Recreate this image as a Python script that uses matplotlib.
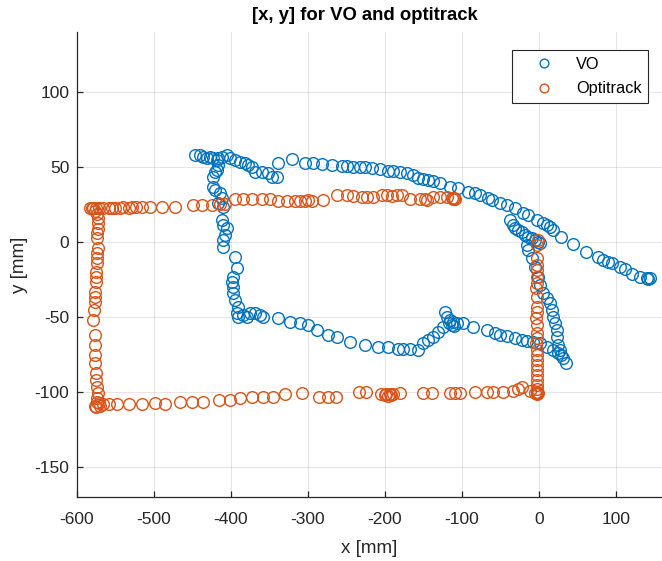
"""
VO vs Optitrack trajectory - top-down [x, y] scatter.
"""

import matplotlib
matplotlib.use("Agg")  # non-interactive backend
import matplotlib.pyplot as plt

# Visual odometry estimate [mm]
vo_x = [
    -37.7, -33.4, -31.2, -26.8, -22.5, -18.2, -13.9, -9.5, -5.2, -0.9, 1.3, -16.0,
    -13.9, -9.5, -5.2, -0.9, 1.3, 5.6, 10.0, 14.3, 16.5, 18.6, 20.8, 23.0, 23.0,
    25.1, 27.3, 29.4, 31.6, 35.9,
    25.1, 18.6, 10.0, 1.3, -7.4, -16.0, -22.5, -31.2, -42.0, -50.6, -57.1, -68.0, -85.3,
    -98.3, -106.9, -113.4, -111.3, -115.6, -122.1, -119.9, -117.0, -110.0, -124.3,
    -130.8, -137.2, -143.7, -150.2,
    -156.7, -167.5, -176.2, -182.7, -195.7, -208.7, -226.0, -245.5, -262.7, -273.6,
    -288.7, -299.6, -310.4, -323.4, -338.5, -358.0, -362.3, -368.8, -375.3, -379.7,
    -384.0, -390.5, -392.6, -390.5, -394.8, -397.0, -397.0, -399.1, -397.0, -392.6, -394.8,
    -410.0, -410.0, -407.8, -405.6, -410.0, -412.1, -410.0, -416.5, -412.1, -414.3,
    -420.8, -423.0, -423.0, -418.6, -420.8, -416.5,
    -446.8, -440.3, -436.0, -431.6, -427.3, -423.0, -418.6, -416.5, -412.1, -405.6,
    -401.3, -394.8, -388.3, -381.8, -377.5, -373.2, -368.8, -360.2, -351.5, -347.2,
    -340.7, -338.5,
    -321.2, -303.9, -293.1, -282.3, -269.3, -256.3, -249.8, -241.2, -232.5, -226.0,
    -217.3, -206.5, -195.7, -189.2, -180.5, -171.8, -163.2, -156.7, -150.2, -143.7,
    -137.2, -128.6, -115.6, -104.8, -91.8, -83.1, -76.6, -65.8, -61.5, -50.6, -42.0,
    -31.2, -20.3, -13.9, -3.0, 5.6, 10.0, 14.3, 18.6, 29.4, 44.6, 61.9, 77.0, 83.5,
    90.0, 94.4, 105.2, 111.7, 120.4, 131.2, 139.9, 142.0, 144.2,
]
vo_y = [
    14.7, 11.3, 9.1, 8.0, 6.9, 4.7, 3.6, 2.4, 1.3, 0.2, -0.9, -2.0,
    -5.3, -10.9, -16.4, -23.1, -28.7, -34.2, -37.6, -40.9, -45.3, -49.8, -54.2, -58.7, -63.1,
    -68.7, -72.0, -75.3, -77.6, -80.9,
    -73.8, -72.0, -69.8, -67.6, -66.4, -65.8, -65.3, -64.2, -62.4, -62.0, -60.9, -58.7, -56.4,
    -53.8, -54.2, -55.3, -53.1, -52.0, -46.4, -49.8, -54.0, -56.0, -56.4,
    -59.8, -63.1, -65.3, -67.6,
    -72.0, -71.6, -71.6, -71.6, -70.2, -69.8, -68.7, -66.4, -63.1, -62.0,
    -58.7, -55.3, -54.2, -53.1, -50.9, -49.8, -48.7, -47.6, -47.6, -49.8,
    -48.7, -49.8, -47.6, -43.1, -38.7, -34.2, -29.8, -26.4, -23.1, -17.6, -9.8,
    -3.1, 1.3, 4.7, 9.1, 11.3, 14.7, 23.6, 25.8, 29.1, 32.4,
    34.7, 36.9, 43.6, 48.0, 46.9, 51.3,
    58.0, 58.0, 56.9, 55.8, 56.9, 55.8, 54.7, 55.8, 56.9, 58.0,
    55.8, 54.7, 53.6, 52.4, 51.3, 50.2, 46.9, 46.9, 45.8, 43.6,
    43.6, 52.4,
    55.1, 52.9, 52.4, 52.0, 51.3, 50.7, 50.7, 50.2, 50.2, 49.8,
    49.1, 48.4, 47.6, 47.6, 46.9, 46.2, 44.7, 42.4, 41.8, 41.3,
    40.9, 39.6, 36.9, 35.8, 33.6, 32.4, 31.3, 29.1, 28.0, 25.8, 24.7,
    22.4, 19.1, 18.0, 14.7, 12.4, 11.3, 10.2, 8.0, 3.6, -1.3, -6.4, -10.2, -12.0,
    -13.1, -14.2, -16.9, -18.2, -21.3, -23.6, -24.2, -24.9, -24.2,
]

# Optitrack ground truth [mm]
opti_x = [
    -1, -2, -3, -3, -2, -3, -3, -4, -3, -3, -3, -4, -3, -3, -3, -4, -3, -3, -3, -3,
    -3, -3, -3, -3, -3, -2, -3, -1,
    -3, -5, -12, -22, -27, -33, -46, -59, -68, -83, -103, -109, -116, -139, -150,
    -181, -190, -192, -194, -196, -198, -200, -205, -224, -233, -263, -274, -285,
    -308, -330, -345, -358, -373, -388, -401, -416, -436, -451, -466, -486, -499,
    -516, -533, -548, -559, -566, -570, -575, -572, -577,
    -574, -574, -573, -574, -575, -575, -576, -576, -576, -577, -579, -578, -577,
    -577, -576, -575, -575, -575, -574, -574, -574, -573, -574, -574, -573, -573,
    -573, -574, -576, -580, -583,
    -579, -575, -571, -566, -559, -555, -551, -544, -540, -533, -529, -523, -516,
    -505, -490, -473, -449, -438, -425, -414, -408, -395, -384, -373, -360, -349,
    -339, -327, -317, -310, -304, -300, -295, -281, -262, -249, -242, -230, -223,
    -216, -204, -197, -191, -184, -178, -168, -155, -148, -145, -138, -129, -119,
    -113, -112, -110, -109,
]
opti_y = [
    1.3, -2.0, -10.9, -15.3, -18.7, -23.1, -27.6, -30.9, -36.4, -43.1, -46.4, -50.9,
    -55.3, -60.9, -64.2, -67.6, -72.0, -75.3, -78.7, -82.0, -85.3, -88.7, -92.0, -95.3,
    -98.0, -100.0, -101.0, -100.5,
    -100.9, -100.9, -99.5, -96.4, -98.2, -99.0, -99.8, -99.8, -99.8, -99.8, -100.5,
    -100.5, -100.5, -100.5, -100.5, -100.9, -101.6, -102.2, -101.6, -102.5, -101.6,
    -102.2, -101.6, -100.2, -100.2, -103.1, -103.1, -103.1, -100.9, -101.6, -103.1,
    -103.1, -103.1, -104.0, -105.3, -105.3, -106.4, -106.4, -106.4, -108.0, -107.5,
    -108.0, -108.0, -108.0, -108.0, -108.0, -109.0, -110.0, -107.5, -109.0,
    -106.4, -104.2, -100.9, -96.5, -92.0, -87.5, -80.9, -75.3, -68.7, -62.0, -52.0,
    -45.3, -39.8, -36.4, -33.0, -26.4, -23.1, -19.8, -14.2, -10.9, -7.6, -4.2, 2.5,
    5.8, 9.0, 12.4, 15.8, 19.0, 21.0, 22.5, 22.5,
    22.5, 22.8, 22.5, 22.5, 23.0, 22.5, 23.0, 23.0, 23.3, 23.0, 23.3, 23.3, 23.6,
    23.6, 23.6, 23.6, 24.7, 25.0, 25.0, 25.5, 25.5, 28.4, 28.4, 28.4, 28.4, 28.4,
    27.6, 27.6, 27.6, 27.6, 27.6, 27.9, 27.6, 27.9, 31.3, 31.3, 31.0, 29.8, 29.8,
    29.8, 31.3, 31.3, 31.0, 31.3, 31.3, 29.0, 28.4, 28.4, 28.0, 29.8, 29.8, 29.8,
    29.5, 28.8, 29.2, 28.5,
]

x_ticks = [-600, -500, -400, -300, -200, -100, 0, 100]
y_ticks = [-150, -100, -50, 0, 50, 100]

VO_COLOR = "#0072BD"
OPTI_COLOR = "#D95319"
AX_COLOR = "#262626"

plt.rcParams["font.family"] = ["Liberation Sans", "DejaVu Sans"]
plt.rcParams["axes.unicode_minus"] = False  # MATLAB-style hyphen minus

W, H = 662, 561
fig = plt.figure(figsize=(W / 100, H / 100), dpi=100)
ax = fig.add_axes([77 / W, 64 / H, 585 / W, 465 / H])

marker_kw = dict(linestyle="none", marker="o", markersize=8.4,
                 markerfacecolor="none", markeredgewidth=1.0)
ax.plot(vo_x, vo_y, color=VO_COLOR, label="VO", **marker_kw)
ax.plot(opti_x, opti_y, color=OPTI_COLOR, label="Optitrack", **marker_kw)

ax.set_xlim(-600, 160)
ax.set_ylim(-170, 140)
ax.set_xticks(x_ticks)
ax.set_yticks(y_ticks)

ax.grid(True, color="#000000", alpha=0.12, linewidth=0.6)
ax.set_axisbelow(True)
for side in ("top", "right"):
    ax.spines[side].set_visible(False)
for side in ("left", "bottom"):
    ax.spines[side].set_color(AX_COLOR)
    ax.spines[side].set_linewidth(0.9)
ax.tick_params(direction="in", length=4.5, width=0.9, colors=AX_COLOR,
               labelsize=12.5)
ax.tick_params(axis="x", pad=11)
ax.tick_params(axis="y", pad=5.5)

# title is centred a bit left of the axes midpoint in the original export
fig.text(365 / W, 1 - 15 / H, "[x, y] for VO and optitrack", fontsize=13.3,
         fontweight="bold", color="black", ha="center", va="center")
ax.set_xlabel("x [mm]", fontsize=13.5, color=AX_COLOR, labelpad=9)
ax.set_ylabel("y [mm]", fontsize=13.5, color=AX_COLOR, labelpad=5)

leg = ax.legend(loc="upper right", bbox_to_anchor=(648 / W, 1 - 50 / H),
                bbox_transform=fig.transFigure, fontsize=11.8, frameon=True,
                fancybox=False, framealpha=1, edgecolor=AX_COLOR,
                markerscale=0.75, handlelength=3.1, handletextpad=0.4,
                borderpad=0.4, labelspacing=0.6, borderaxespad=0)
leg.get_frame().set_linewidth(0.8)

fig.savefig("out.png", dpi=100, facecolor="white")
